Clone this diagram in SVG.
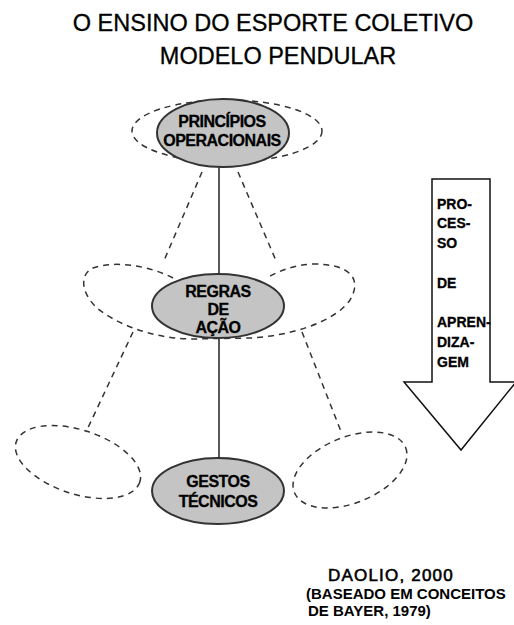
<svg xmlns="http://www.w3.org/2000/svg" width="514" height="625" viewBox="0 0 514 625">
<style>
.title{font-family:"Liberation Sans",Arial,sans-serif;font-size:23.5px;fill:#000;stroke:#000;stroke-width:0.3;text-anchor:middle}
.node{fill:#c4c4c4;stroke:#333;stroke-width:2}
.nt{font-family:"Liberation Sans",Arial,sans-serif;font-size:16px;font-weight:bold;letter-spacing:-0.5px;fill:#000;stroke:#000;stroke-width:0.3;text-anchor:middle}
.dash{fill:none;stroke:#333;stroke-width:1.5;stroke-dasharray:6 5}
.solid{fill:none;stroke:#222;stroke-width:1.5}
.at{font-family:"Liberation Sans",Arial,sans-serif;font-size:14px;font-weight:bold;fill:#000;stroke:#000;stroke-width:0.3}
.ref{font-family:"Liberation Sans",Arial,sans-serif;fill:#000}
</style>
<rect width="514" height="625" fill="#fff"/>
<g id="title">
<text class="title" x="273" y="31">O ENSINO DO ESPORTE COLETIVO</text>
<text class="title" x="278" y="64">MODELO PENDULAR</text>
</g>
<g id="connectors">
<line class="solid" x1="219" y1="167" x2="219" y2="274"/>
<line class="solid" x1="219" y1="338" x2="219" y2="458"/>
<line class="dash" x1="202" y1="172" x2="163" y2="263"/>
<line class="dash" x1="238" y1="172" x2="277" y2="263"/>
<line class="dash" x1="133" y1="332" x2="86" y2="432"/>
<line class="dash" x1="302" y1="332" x2="342" y2="434"/>
</g>
<g id="lobes">
<ellipse class="dash" cx="227" cy="131" rx="95" ry="31"/>
<path class="dash" d="M173,278 C150,266 115,260 93,268 C80,274 80,292 97,308 C115,323 150,338 190,339 L250,338 C290,336 335,322 350,300 C362,280 352,264 313,264 C295,265 280,270 267,278"/>
<ellipse class="dash" cx="78" cy="462" rx="65" ry="32" transform="rotate(18 78 462)"/>
<ellipse class="dash" cx="350" cy="470" rx="60" ry="33" transform="rotate(-22 350 470)"/>
</g>
<g id="principios">
<ellipse class="node" cx="223" cy="133" rx="66" ry="34"/>
<text class="nt" x="222" y="127">PRINCÍPIOS</text>
<text class="nt" x="222" y="146">OPERACIONAIS</text>
</g>
<g id="regras">
<ellipse class="node" cx="218" cy="306" rx="66" ry="32"/>
<text class="nt" x="218" y="297">REGRAS</text>
<text class="nt" x="218" y="315">DE</text>
<text class="nt" x="218" y="333">AÇÃO</text>
</g>
<g id="gestos">
<ellipse class="node" cx="218" cy="491" rx="66" ry="33"/>
<text class="nt" x="218" y="487">GESTOS</text>
<text class="nt" x="218" y="507">TÉCNICOS</text>
</g>
<g id="arrow">
<polygon points="432,179 490,179 490,382 516,382 461,450 404,382 432,382" fill="#fff" stroke="#111" stroke-width="1.5"/>
<text class="at" x="437" y="209">PRO-</text>
<text class="at" x="437" y="228">CES-</text>
<text class="at" x="437" y="248">SO</text>
<text class="at" x="437" y="288">DE</text>
<text class="at" x="437" y="327">APREN-</text>
<text class="at" x="437" y="347">DIZA-</text>
<text class="at" x="437" y="367">GEM</text>
</g>
<g id="reference">
<text class="ref" x="328" y="581" font-size="17" letter-spacing="1.2" stroke="#000" stroke-width="0.6">DAOLIO, 2000</text>
<text class="ref" x="306" y="599" font-size="15" font-weight="bold">(BASEADO EM CONCEITOS</text>
<text class="ref" x="308" y="616" font-size="15" font-weight="bold">DE BAYER, 1979)</text>
</g>
</svg>
